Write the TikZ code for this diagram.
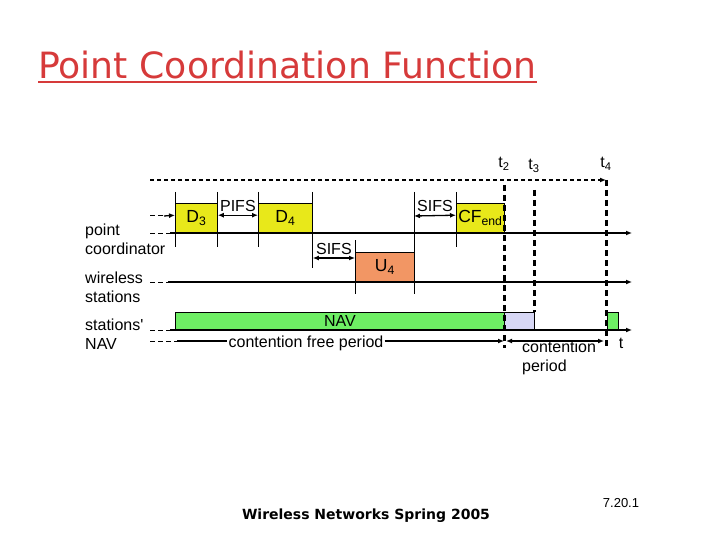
\documentclass[tikz,border=0pt]{standalone}
\usepackage{fontspec}
\setmainfont{Liberation Sans}
\newfontfamily\headfont{DejaVu Sans}
\usetikzlibrary{arrows.meta}
\definecolor{titlered}{RGB}{214,58,58}
\definecolor{pcfyellow}{RGB}{232,232,26}
\definecolor{upcolor}{RGB}{242,150,100}
\definecolor{navgreen}{RGB}{110,238,100}
\definecolor{cpblue}{RGB}{215,215,245}
\tikzset{
  >={Latex[length=6pt,width=5pt]},
  slot/.style={draw, line width=0.8pt, inner sep=0pt, anchor=south west,
    font=\fontsize{17.5}{19}\selectfont},
  lbl/.style={inner sep=0pt, font=\fontsize{16}{19}\selectfont},
  axis/.style={line width=1.6pt, ->},
  stub/.style={line width=1pt, dash pattern=on 5pt off 3pt},
  tickline/.style={line width=0.8pt},
  gap/.style={line width=1.3pt, <->},
  tline/.style={line width=3pt, dash pattern=on 6pt off 4pt},
}

\begin{document}
\begin{tikzpicture}[x=1pt, y=-1pt]
\useasboundingbox (0,0) rectangle (720,540);

% title
\node[anchor=base west, inner sep=0pt, text=titlered,
  font=\headfont\fontsize{36.2}{40}\selectfont] (title) at (38,79) {Point Coordination Function};
\draw[titlered, line width=2pt] ([yshift=-3pt]title.base west) -- ([yshift=-3pt]title.base east);

% row labels
\node[lbl, anchor=west, align=left] (pc) at (85,239) {point\\coordinator};
\node[lbl, anchor=west, align=left] (ws) at (85,287) {wireless\\stations};
\node[lbl, anchor=west, align=left] (sn) at (85,334) {stations\textquotesingle\\NAV};

% time marks
\node[lbl] (t2) at (504,164) {t\textsubscript{2}};
\node[lbl] (t3) at (534,166) {t\textsubscript{3}};
\node[lbl] (t4) at (606,164) {t\textsubscript{4}};
\coordinate (t2top) at (504,185);
\coordinate (t2bot) at (504,348);
\coordinate (t3top) at (534,190);
\coordinate (t3bot) at (534,312);
\coordinate (t4top) at (606,180);
\coordinate (t4bot) at (606,348);

% axes
\coordinate (pcl) at (170,233);
\coordinate (pcr) at (632,233);
\coordinate (wsl) at (168,282);
\coordinate (wsr) at (632,282);
\coordinate (snl) at (170,330);
\coordinate (snr) at (632,330);
\draw[stub] (150,233) -- (pcl);
\draw[stub] (150,282) -- (wsl);
\draw[stub] (150,330) -- (snl);
\draw[axis] (pcl) -- (pcr);
\draw[axis] (wsl) -- (wsr);
\draw[axis] (snl) -- (snr);

% frames
\node[slot, fill=pcfyellow, minimum width=42pt, minimum height=29pt] (d3) at (175,233) {D\textsubscript{3}};
\node[slot, fill=pcfyellow, minimum width=54pt, minimum height=29pt] (d4) at (258,233) {D\textsubscript{4}};
\node[slot, fill=pcfyellow, minimum width=48pt, minimum height=29pt] (cfend) at (456,233) {CF\textsubscript{end}};
\node[slot, fill=upcolor, minimum width=59pt, minimum height=29pt] (u4) at (355,282) {U\textsubscript{4}};
\node[slot, fill=navgreen, minimum width=329pt, minimum height=17pt, font=\fontsize{16}{18}\selectfont] (nav) at (175,330) {NAV};
\node[slot, fill=cpblue, minimum width=30pt, minimum height=17pt] (cp) at (504,330) {};
\node[slot, fill=navgreen, minimum width=11pt, minimum height=17pt] (nav2) at (607,330) {};

% slot edges
\draw[tickline] (175,192) -- (175,247);
\draw[tickline] (217,192) -- (217,247);
\draw[tickline] (258,192) -- (258,247);
\draw[tickline] (312,192) -- (312,268);
\draw[tickline] (355,240) -- (355,294);
\draw[tickline] (414,192) -- (414,294);
\draw[tickline] (456,192) -- (456,247);

% poll into D3
\draw[stub] (150,216) -- (164,216);
\draw[line width=1.3pt, ->] (164,216) -- ([yshift=-12pt]d3.north west);

% interframe spaces
\draw[gap] ([yshift=-12pt]d3.north east) -- node[lbl, above=3pt] {PIFS} ([yshift=-12pt]d4.north west);
\draw[gap] (d4.south east |- 0,258) -- node[lbl, above=3pt] {SIFS} (u4.west |- 0,258);
\draw[gap] (414,216) -- node[lbl, above=3pt] {SIFS} ([yshift=-12pt]cfend.north west);

% periods
\coordinate (cfpl) at (177,341);
\node[lbl, inner sep=1pt] (cfp) at (306,343) {contention free period};
\draw[stub] (150,341) -- (cfpl);
\draw[line width=1.3pt] (cfpl) -- (cfp.west |- cfpl);
\draw[line width=1.3pt, ->] (cfp.east |- cfpl) -- (t2bot |- cfpl);
\coordinate (cpl) at (506,341);
\coordinate (cpr) at (604,341);
\draw[gap] (cpl) -- (cpr);
\node[lbl, anchor=west, align=left] (cpt) at (522,358) {contention\\period};
\node[lbl] (tt) at (621,343) {t};

% time lines
\draw[line width=1.3pt, dash pattern=on 4pt off 3pt, ->] (150,180) -- (t4top);
\draw[tline] (t2top) -- (t2bot);
\draw[tline] (t3top) -- (t3bot);
\draw[tline] (t4top) -- (t4bot);

% footer
\node[inner sep=0pt, font=\headfont\bfseries\fontsize{14}{16}\selectfont] (foot) at (366,516) {Wireless Networks Spring 2005};
\node[inner sep=0pt, font=\fontsize{13}{15}\selectfont] (page) at (621,503) {7.20.1};
\end{tikzpicture}
\end{document}
